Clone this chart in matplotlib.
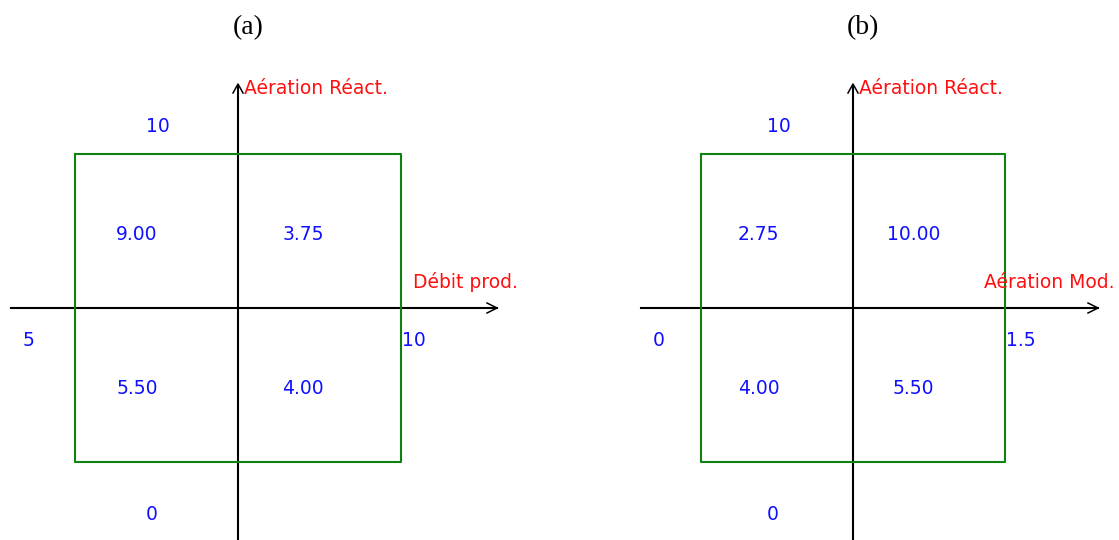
import matplotlib
matplotlib.use('Agg')
from matplotlib import pyplot as plt

# 数据
titles = ['(a)', '(b)']
cell_vals_a = [9.00, 3.75, 5.50, 4.00]   # 左上, 右上, 左下, 右下
cell_vals_b = [2.75, 10.00, 4.00, 5.50]
y_ticks_a = ['10', '0']                  # 上, 下
y_ticks_b = ['10', '0']
x_ticks_a = ['5', '10']                  # 左, 右
x_ticks_b = ['0', '1.5']
x_names = ['Débit prod.', 'Aération Mod.']
y_names = ['Aération Réact.', 'Aération Réact.']

plt.rcParams['font.family'] = ['DejaVu Sans']
blue = '#1010ff'
red = '#ff1010'
green = '#108010'
fs = 13.5

fig = plt.figure(figsize=(11.19, 5.4), dpi=100)
ax = fig.add_axes([0, 0, 1, 1])
ax.set_xlim(0, 1119)
ax.set_ylim(540, 0)
ax.axis('off')


def draw_panel(cx, cy, hw, hh, x_left, x_right, title, vals, yt, xt, xname, yname, xname_dx):
    # 坐标轴
    ax.plot([x_left, x_right], [cy, cy], c='black', lw=1.5)
    ax.plot([x_right - 10, x_right, x_right - 10], [cy - 5, cy, cy + 5], c='black', lw=1.1)
    ax.plot([cx, cx], [86, 540], c='black', lw=1.5)
    ax.plot([cx - 5, cx, cx + 5], [93, 84, 93], c='black', lw=1.1)
    # 绿色方框
    ax.plot([cx - hw, cx + hw, cx + hw, cx - hw, cx - hw],
            [cy - hh, cy - hh, cy + hh, cy + hh, cy - hh], c=green, lw=1.5)
    # 方格里的数值
    pos = [(-0.62, -74), (0.40, -74), (-0.62, 81), (0.40, 81)]
    for v, (fx, dy) in zip(vals, pos):
        ax.text(cx + fx * hw, cy + dy, '%.2f' % v, color=blue, fontsize=fs,
                ha='center', va='center')
    # 刻度
    ax.text(cx - 0.49 * hw, cy - 181, yt[0], color=blue, fontsize=fs, ha='center', va='center')
    ax.text(cx - 0.53 * hw, cy + 207, yt[1], color=blue, fontsize=fs, ha='center', va='center')
    ax.text(x_left + 18, cy + 32, xt[0], color=blue, fontsize=fs, ha='center', va='center')
    ax.text(cx + hw + 1, cy + 32, xt[1], color=blue, fontsize=fs, ha='left', va='center')
    # 轴名
    ax.text(x_right + xname_dx, cy - 26, xname, color=red, fontsize=fs, ha='right', va='center')
    ax.text(cx + 6, 88, yname, color=red, fontsize=fs, ha='left', va='center')
    # 标题
    ax.text(cx + 10, 28, title, fontsize=20, family='Liberation Serif', ha='center', va='center')


draw_panel(238, 308, 163, 154, 11, 497, titles[0], cell_vals_a, y_ticks_a, x_ticks_a,
           x_names[0], y_names[0], 21)
draw_panel(853, 308, 152, 154, 641, 1098, titles[1], cell_vals_b, y_ticks_b, x_ticks_b,
           x_names[1], y_names[1], 17)

plt.savefig('out.png', dpi=100)
